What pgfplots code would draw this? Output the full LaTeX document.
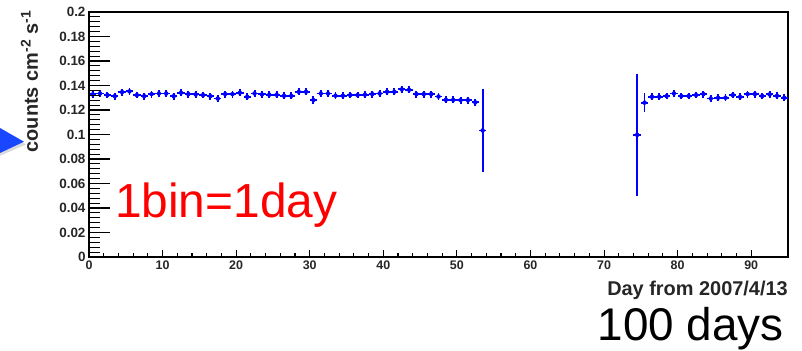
\documentclass[border=0pt]{standalone}
\usepackage{pgfplots}
\usepackage{pgfplotstable}
\pgfplotsset{compat=1.18}
\usepackage{fontspec}
\setmainfont{Liberation Sans}
\definecolor{rootblue}{RGB}{0,0,255}
\definecolor{arrowblue}{RGB}{25,70,255}
\pgfplotstableread{
x y ex ey
0.5 0.1327 0.5 0.0032
1.5 0.1335 0.5 0.0028
2.5 0.1322 0.5 0.0028
3.5 0.1313 0.5 0.0028
4.5 0.1346 0.5 0.0028
5.5 0.1352 0.5 0.0028
6.5 0.1322 0.5 0.0028
7.5 0.1313 0.5 0.0028
8.5 0.1330 0.5 0.0028
9.5 0.1335 0.5 0.0028
10.5 0.1335 0.5 0.0028
11.5 0.1313 0.5 0.0028
12.5 0.1341 0.5 0.0028
13.5 0.1330 0.5 0.0028
14.5 0.1327 0.5 0.0028
15.5 0.1322 0.5 0.0028
16.5 0.1313 0.5 0.0028
17.5 0.1294 0.5 0.0028
18.5 0.1330 0.5 0.0028
19.5 0.1330 0.5 0.0028
20.5 0.1341 0.5 0.0028
21.5 0.1308 0.5 0.0028
22.5 0.1335 0.5 0.0028
23.5 0.1327 0.5 0.0028
24.5 0.1325 0.5 0.0028
25.5 0.1325 0.5 0.0028
26.5 0.1316 0.5 0.0028
27.5 0.1316 0.5 0.0028
28.5 0.1349 0.5 0.0028
29.5 0.1349 0.5 0.0028
30.5 0.1281 0.5 0.0030
31.5 0.1335 0.5 0.0028
32.5 0.1335 0.5 0.0028
33.5 0.1317 0.5 0.0028
34.5 0.1317 0.5 0.0028
35.5 0.1322 0.5 0.0028
36.5 0.1322 0.5 0.0028
37.5 0.1325 0.5 0.0028
38.5 0.1330 0.5 0.0028
39.5 0.1335 0.5 0.0028
40.5 0.1349 0.5 0.0028
41.5 0.1349 0.5 0.0028
42.5 0.1368 0.5 0.0028
43.5 0.1365 0.5 0.0028
44.5 0.1330 0.5 0.0028
45.5 0.1330 0.5 0.0028
46.5 0.1330 0.5 0.0028
47.5 0.1310 0.5 0.0028
48.5 0.1283 0.5 0.0028
49.5 0.1283 0.5 0.0028
50.5 0.1280 0.5 0.0028
51.5 0.1280 0.5 0.0028
52.5 0.1262 0.5 0.0030
53.5 0.1033 0.5 0.0340
74.5 0.0997 0.5 0.0495
75.5 0.1260 0.5 0.0075
76.5 0.1308 0.5 0.0028
77.5 0.1308 0.5 0.0028
78.5 0.1314 0.5 0.0028
79.5 0.1335 0.5 0.0028
80.5 0.1314 0.5 0.0028
81.5 0.1314 0.5 0.0028
82.5 0.1322 0.5 0.0028
83.5 0.1330 0.5 0.0028
84.5 0.1294 0.5 0.0028
85.5 0.1300 0.5 0.0028
86.5 0.1300 0.5 0.0028
87.5 0.1322 0.5 0.0028
88.5 0.1308 0.5 0.0028
89.5 0.1330 0.5 0.0028
90.5 0.1330 0.5 0.0028
91.5 0.1314 0.5 0.0028
92.5 0.1327 0.5 0.0028
93.5 0.1316 0.5 0.0028
94.5 0.1300 0.5 0.0028
}\flux
\pgfplotsset{
  rootframe/.style={
    scale only axis, width=699bp, height=245bp,
    xmin=0, xmax=95, ymin=0, ymax=0.2,
    axis line style={black, line width=1.1bp},
    every tick/.style={black, line width=1.1bp},
    tick align=inside,
    /pgf/number format/assume math mode=true,
    clip=false,
  }
}
\begin{document}
\begin{tikzpicture}
\useasboundingbox (-89bp,-94bp) rectangle (713bp,257bp);
\clip (-89bp,-94bp) rectangle (713bp,257bp);
% main axis: frame, x ticks and data
\begin{axis}[rootframe,
  xtick pos=bottom,
  xtick={0,10,20,30,40,50,60,70,80,90},
  minor x tick num=4,
  ytick=\empty,
  major tick length=7bp, minor tick length=3.5bp,
  xticklabel style={font=\bfseries\fontsize{12.5}{14}\selectfont, text=black!85},
]
\addplot[only marks, mark=none, rootblue,
  error bars/.cd, x dir=both, x explicit, y dir=both, y explicit,
  error mark=none, error bar style={line width=1.9bp, rootblue}]
  table[x=x, y=y, x error=ex, y error=ey] {\flux};
\end{axis}
% second axis: y ticks (longer, as in the reference)
\begin{axis}[rootframe,
  hide x axis, axis y line*=left,
  ytick={0,0.02,0.04,0.06,0.08,0.1,0.12,0.14,0.16,0.18,0.2},
  minor y tick num=4,
  major tick length=21bp, minor tick length=11bp,
  scaled y ticks=false,
  yticklabel style={font=\bfseries\fontsize{13.5}{15}\selectfont, text=black!85,
    /pgf/number format/fixed, /pgf/number format/precision=2},
]
\addplot[draw=none, forget plot] coordinates {(0,0)};
\end{axis}
\begin{scope}[shift={(-89bp,-94bp)}]
% keynote arrow (decoration)
\fill[black!25, opacity=0.6] (-12bp,227bp) -- (26bp,206.5bp) -- (-12bp,190bp) -- cycle;
\fill[arrowblue] (-12bp,229.9bp) -- (24bp,209.3bp) -- (-12bp,192.4bp) -- cycle;
% texts
\node[anchor=base west, inner sep=0pt, text=red, font=\fontsize{48}{52}\selectfont] at (115bp,133.7bp) {1bin=1day};
\node[anchor=base east, inner sep=0pt, font=\fontsize{46}{50}\selectfont] at (784bp,10.5bp) {100 days};
\node[anchor=base east, inner sep=0pt, font=\bfseries\fontsize{20}{22}\selectfont, text=black!85] at (788bp,55.7bp) {Day from 2007/4/13};
\node[anchor=base east, inner sep=0pt, rotate=90, font=\bfseries\fontsize{20}{22}\selectfont, text=black!85] at (38bp,341bp) {counts cm\textsuperscript{-2} s\textsuperscript{-1}};
\end{scope}
\end{tikzpicture}
\end{document}
